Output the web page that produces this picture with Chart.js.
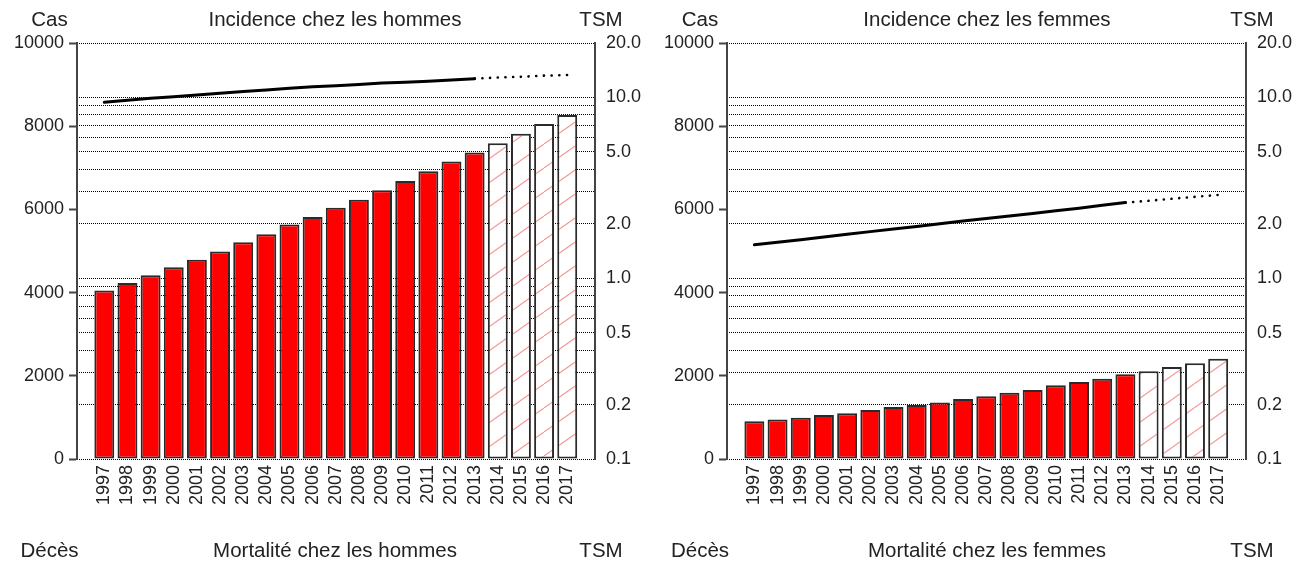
<!DOCTYPE html>
<html>
<head>
<meta charset="utf-8">
<script src="https://cdn.jsdelivr.net/npm/chart.js@4.4.1/dist/chart.umd.min.js"></script>
<style>
  body { margin: 0; background: #fff; width: 1303px; height: 562px; overflow: hidden; position: relative;
         font-family: "Liberation Sans", Arial, sans-serif; }
  canvas { position: absolute; top: 0; }
  .t { position: absolute; font-size: 20.5px; line-height: 20px; color: #222; white-space: nowrap;
       transform: translateX(-50%); }
</style>
</head>
<body>
<canvas id="men" width="650" height="562" style="left:0"></canvas>
<canvas id="women" width="653" height="562" style="left:650px"></canvas>

<div class="t" style="left:49.5px;top:9px">Cas</div>
<div class="t" style="left:335px;top:9px">Incidence chez les hommes</div>
<div class="t" style="left:601px;top:9px">TSM</div>
<div class="t" style="left:700px;top:9px">Cas</div>
<div class="t" style="left:987px;top:9px">Incidence chez les femmes</div>
<div class="t" style="left:1252px;top:9px">TSM</div>

<div class="t" style="left:49.5px;top:540px">Décès</div>
<div class="t" style="left:335px;top:540px">Mortalité chez les hommes</div>
<div class="t" style="left:601px;top:540px">TSM</div>
<div class="t" style="left:700px;top:540px">Décès</div>
<div class="t" style="left:987px;top:540px">Mortalité chez les femmes</div>
<div class="t" style="left:1252px;top:540px">TSM</div>

<script>
// Years shown on the x axis; values after lastObservedYear are projections
const years = [1997, 1998, 1999, 2000, 2001, 2002, 2003, 2004, 2005, 2006, 2007,
               2008, 2009, 2010, 2011, 2012, 2013, 2014, 2015, 2016, 2017];
const lastObservedYear = 2013;

// Number of cases (left axis)
const menCases   = [4050, 4230, 4420, 4610, 4790, 4990, 5210, 5400, 5640, 5820, 6040,
                    6230, 6460, 6680, 6920, 7150, 7370, 7590, 7820, 8050, 8270];
const womenCases = [910, 950, 990, 1060, 1100, 1180, 1250, 1300, 1360, 1440, 1510,
                    1590, 1660, 1770, 1850, 1930, 2040, 2110, 2210, 2300, 2410];

// Standardised rate (TSM, right log axis), observed 1997-2013
const menRate   = [9.4, 9.65, 9.9, 10.1, 10.3, 10.55, 10.8, 11.0, 11.25, 11.45, 11.6,
                   11.8, 12.0, 12.15, 12.3, 12.5, 12.7];
const womenRate = [1.53, 1.58, 1.63, 1.69, 1.75, 1.81, 1.87, 1.93, 2.00, 2.07, 2.14,
                   2.21, 2.28, 2.36, 2.44, 2.53, 2.62];
// Projected rate, 2013-2017
const menRateProjected   = [12.7, 12.9, 13.0, 13.2, 13.3];
const womenRateProjected = [2.62, 2.68, 2.75, 2.82, 2.89];

// Axis ticks
const caseTicks  = [0, 2000, 4000, 6000, 8000, 10000];
const rateGrid   = [0.1, 0.2, 0.3, 0.4, 0.5, 0.6, 0.7, 0.8, 0.9, 1, 2, 3, 4, 5, 6, 7, 8, 9, 10, 20];
const rateLabels = [0.1, 0.2, 0.5, 1, 2, 5, 10, 20];

const FONT = "'Liberation Sans', Arial, sans-serif";
const TEXT = '#222';

function hatchPattern(ctx) {
  const w = 34, h = 24;
  const c = document.createElement('canvas');
  c.width = w; c.height = h;
  const g = c.getContext('2d');
  g.fillStyle = '#fff';
  g.fillRect(0, 0, w, h);
  g.strokeStyle = 'rgba(244, 128, 128, 0.8)';
  g.lineWidth = 1.2;
  for (const dx of [-w, 0, w]) {
    g.beginPath();
    g.moveTo(dx, h);
    g.lineTo(dx + w, 0);
    g.stroke();
  }
  return ctx.createPattern(c, 'repeat');
}

function buildChart(id, cases, rate, rateProjected, rightWidth) {
  const canvas = document.getElementById(id);
  const ctx = canvas.getContext('2d');
  const hatch = hatchPattern(ctx);
  const projStart = years.indexOf(lastObservedYear);

  return new Chart(ctx, {
    data: {
      datasets: [
        {
          type: 'line', yAxisID: 'rate', order: 1,
          data: rate.map((v, i) => ({ x: i, y: v })),
          borderColor: '#000', borderWidth: 3, pointRadius: 0, tension: 0,
          borderCapStyle: 'round'
        },
        {
          type: 'line', yAxisID: 'rate', order: 1,
          data: rateProjected.map((v, i) => ({ x: projStart + i, y: v })),
          borderColor: '#000', borderWidth: 2.6, pointRadius: 0, tension: 0,
          borderCapStyle: 'round', borderDash: [0.1, 7.6]
        },
        {
          type: 'bar', yAxisID: 'cases', order: 2,
          data: cases.map((v, i) => ({ x: i, y: v })),
          backgroundColor: years.map(y => y <= lastObservedYear ? '#ff0000' : hatch),
          borderColor: '#2a2a2a', borderWidth: 2, borderSkipped: false,
          categoryPercentage: 1, barPercentage: 0.86
        }
      ]
    },
    options: {
      responsive: false, animation: false, devicePixelRatio: 1,
      layout: { padding: { top: 43, left: 0, right: 0, bottom: 0 } },
      plugins: { legend: { display: false }, tooltip: { enabled: false } },
      scales: {
        x: {
          type: 'linear', min: -1.18, max: 21.2, offset: false,
          grid: { display: false, drawTicks: false, offset: false },
          border: { display: false },
          afterBuildTicks: s => { s.ticks = years.map((_, i) => ({ value: i })); },
          afterFit: s => { s.height = 103; },
          ticks: {
            autoSkip: false, minRotation: 90, maxRotation: 90, padding: 6,
            font: { family: FONT, size: 18 }, color: TEXT,
            callback: v => String(years[v])
          }
        },
        cases: {
          type: 'linear', position: 'left', min: 0, max: 10000,
          afterBuildTicks: s => { s.ticks = caseTicks.map(v => ({ value: v })); },
          afterFit: s => { s.width = 77; },
          grid: { drawOnChartArea: false, drawTicks: true, tickLength: 8, tickColor: '#444', tickWidth: 2 },
          border: { color: '#444', width: 2 },
          ticks: { padding: 5, font: { family: FONT, size: 18 }, color: TEXT, callback: v => String(v) }
        },
        rate: {
          type: 'logarithmic', position: 'right', min: 0.1, max: 20, z: 1,
          afterBuildTicks: s => { s.ticks = rateGrid.map(v => ({ value: v })); },
          afterFit: s => { s.width = rightWidth; },
          grid: { color: '#000', lineWidth: 1, drawTicks: false },
          border: { color: '#444', width: 2, dash: [1, 1] },
          ticks: {
            autoSkip: false, padding: 11, font: { family: FONT, size: 18 }, color: TEXT,
            callback: v => rateLabels.includes(v) ? v.toFixed(1) : ''
          }
        }
      }
    }
  });
}

buildChart('men', menCases, menRate, menRateProjected, 55);
buildChart('women', womenCases, womenRate, womenRateProjected, 57);
</script>
</body>
</html>
